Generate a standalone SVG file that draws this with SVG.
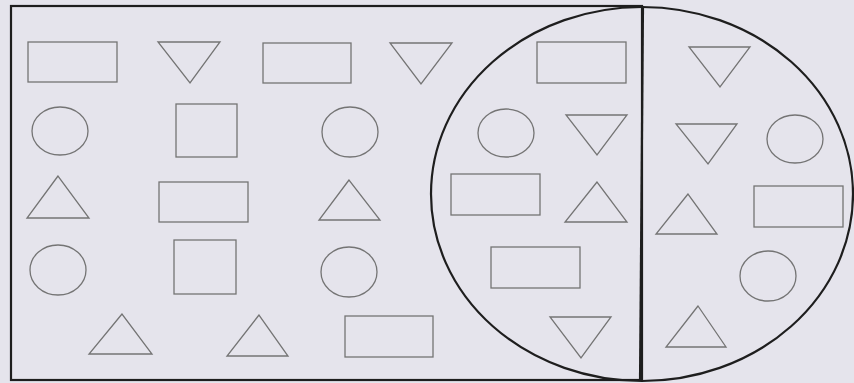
<svg xmlns="http://www.w3.org/2000/svg" width="854" height="383" viewBox="0 0 854 383">
<style>
.s{fill:none;stroke:#747474;stroke-width:1.3}
.b{fill:none;stroke:#1e1e1e;stroke-width:2.2}
</style>
<rect x="0" y="0" width="854" height="383" fill="#e5e4ec"/>
<g id="frame">
<rect class="b" x="11" y="6" width="631" height="374"/>
<ellipse class="b" cx="642" cy="194" rx="211" ry="187"/>
<line class="b" x1="643" y1="6" x2="640" y2="381"/>
</g>
<g id="row1">
<rect id="r1" class="s" x="28" y="42" width="89" height="40"/>
<polygon id="t1" class="s" points="158,42 220,42 190,83"/>
<rect id="r2" class="s" x="263" y="43" width="88" height="40"/>
<polygon id="t2" class="s" points="390,43 452,43 421,84"/>
<rect id="r3" class="s" x="537" y="42" width="89" height="41"/>
<polygon id="t3" class="s" points="689,47 750,47 720,87"/>
</g>
<g id="row2">
<ellipse id="c1" class="s" cx="60" cy="131" rx="28" ry="24"/>
<rect id="q1" class="s" x="176" y="104" width="61" height="53"/>
<ellipse id="c2" class="s" cx="350" cy="132" rx="28" ry="25"/>
<ellipse id="c3" class="s" cx="506" cy="133" rx="28" ry="24"/>
<polygon id="t4" class="s" points="566,115 627,115 597,155"/>
<polygon id="t5" class="s" points="676,124 737,124 708,164"/>
<ellipse id="c4" class="s" cx="795" cy="139" rx="28" ry="24"/>
</g>
<g id="row3">
<polygon id="t6" class="s" points="58,176 27,218 89,218"/>
<rect id="r4" class="s" x="159" y="182" width="89" height="40"/>
<polygon id="t7" class="s" points="349,180 319,220 380,220"/>
<rect id="r5" class="s" x="451" y="174" width="89" height="41"/>
<polygon id="t8" class="s" points="597,182 565,222 627,222"/>
<polygon id="t9" class="s" points="688,194 656,234 717,234"/>
<rect id="r6" class="s" x="754" y="186" width="89" height="41"/>
</g>
<g id="row4">
<ellipse id="c5" class="s" cx="58" cy="270" rx="28" ry="25"/>
<rect id="q2" class="s" x="174" y="240" width="62" height="54"/>
<ellipse id="c6" class="s" cx="349" cy="272" rx="28" ry="25"/>
<rect id="r7" class="s" x="491" y="247" width="89" height="41"/>
<ellipse id="c7" class="s" cx="768" cy="276" rx="28" ry="25"/>
</g>
<g id="row5">
<polygon id="t10" class="s" points="122,314 89,354 152,354"/>
<polygon id="t11" class="s" points="259,315 227,356 288,356"/>
<rect id="r8" class="s" x="345" y="316" width="88" height="41"/>
<polygon id="t12" class="s" points="550,317 611,317 581,358"/>
<polygon id="t13" class="s" points="698,306 666,347 726,347"/>
</g>
</svg>
